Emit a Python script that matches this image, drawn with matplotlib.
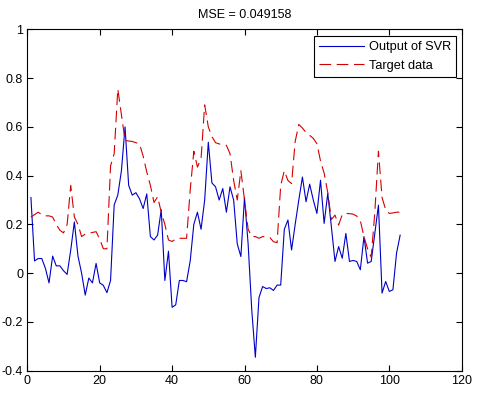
import matplotlib
matplotlib.use("Agg")
import matplotlib.pyplot as plt
import numpy as np

plt.rcParams['font.family'] = ['Liberation Sans', 'DejaVu Sans']

title = "MSE = 0.049158"
legend_labels = ["Output of SVR", "Target data"]

svr_output = [0.31, 0.05, 0.06, 0.06, 0.02, -0.04, 0.07, 0.03, 0.03, 0.01,
              -0.005, 0.095, 0.21, 0.07, 0.0, -0.09, -0.02, -0.04, 0.04, -0.04,
              -0.05, -0.08, -0.03, 0.28, 0.32, 0.42, 0.60, 0.36, 0.32, 0.33,
              0.305, 0.265, 0.325, 0.15, 0.136, 0.156, 0.26, -0.03, 0.09, -0.14,
              -0.13, -0.03, -0.03, -0.035, 0.05, 0.20, 0.25, 0.18, 0.30, 0.537,
              0.37, 0.354, 0.30, 0.347, 0.25, 0.354, 0.30, 0.12, 0.068, 0.31,
              0.12, -0.15, -0.345, -0.10, -0.055, -0.063, -0.06, -0.071, -0.049, -0.049,
              0.18, 0.218, 0.095, 0.20, 0.30, 0.394, 0.293, 0.365, 0.30, 0.245,
              0.381, 0.204, 0.327, 0.19, 0.048, 0.109, 0.061, 0.163, 0.048, 0.052,
              0.048, 0.014, 0.15, 0.041, 0.048, 0.163, 0.279, -0.082, -0.034, -0.075,
              -0.068, 0.082, 0.156]

target = [0.23, 0.24, 0.25, 0.24, 0.235, 0.235, 0.23, 0.20, 0.176, 0.165,
          0.20, 0.36, 0.23, 0.20, 0.15, 0.16, 0.163, 0.167, 0.17, 0.14,
          0.10, 0.10, 0.44, 0.49, 0.755, 0.65, 0.544, 0.542, 0.54, 0.535,
          0.53, 0.48, 0.415, 0.36, 0.29, 0.313, 0.25, 0.20, 0.136, 0.13,
          0.14, 0.143, 0.143, 0.143, 0.34, 0.50, 0.435, 0.47, 0.69, 0.60,
          0.56, 0.535, 0.53, 0.526, 0.524, 0.49, 0.38, 0.30, 0.42, 0.30,
          0.18, 0.15, 0.15, 0.143, 0.15, 0.149, 0.146, 0.129, 0.125, 0.36,
          0.42, 0.38, 0.367, 0.54, 0.61, 0.595, 0.577, 0.565, 0.553, 0.531,
          0.46, 0.41, 0.33, 0.22, 0.238, 0.197, 0.24, 0.245, 0.244, 0.242,
          0.234, 0.215, 0.15, 0.10, 0.065, 0.25, 0.50, 0.31, 0.26, 0.245,
          0.247, 0.25, 0.25]

x = np.arange(1, len(svr_output) + 1)

W, H = 478, 398
fig = plt.figure(figsize=(W / 100, H / 100), dpi=100)
L, R, T, B = 27.3, 461.7, 29.3, 370.7
ax = fig.add_axes([L / W, (H - B) / H, (R - L) / W, (B - T) / H])

ax.plot(x, svr_output, color='#0000c8', lw=0.8, label=legend_labels[0])
ax.plot(x, target, color='#d40000', lw=0.8, ls=(0, (10.5, 5)), label=legend_labels[1])

ax.set_xlim(0, 120)
ax.set_ylim(-0.4, 1.0)
ax.set_xticks(np.arange(0, 121, 20))
ax.set_yticks(np.arange(-0.4, 1.01, 0.2))
ax.set_yticklabels(['-0.4', '-0.2', '0', '0.2', '0.4', '0.6', '0.8', '1'])
ax.tick_params(direction='in', top=True, right=True, length=4.5, width=0.8,
               labelsize=9, pad=3)
for s in ax.spines.values():
    s.set_linewidth(0.8)
ax.set_title(title, fontsize=9, pad=8)

# legend box: right edge ~456 px, top ~36 px
anchor_x = (456 - L) / (R - L)
anchor_y = (B - 36) / (B - T)
leg = ax.legend(loc='upper right', fontsize=9.2, fancybox=False, frameon=True,
                edgecolor='black', framealpha=1, handlelength=3.45,
                handletextpad=0.4, borderaxespad=0, labelspacing=0.5,
                borderpad=0.4, bbox_to_anchor=(anchor_x, anchor_y))
leg.get_frame().set_linewidth(0.8)

fig.savefig("out.png", dpi=100, facecolor='white')
